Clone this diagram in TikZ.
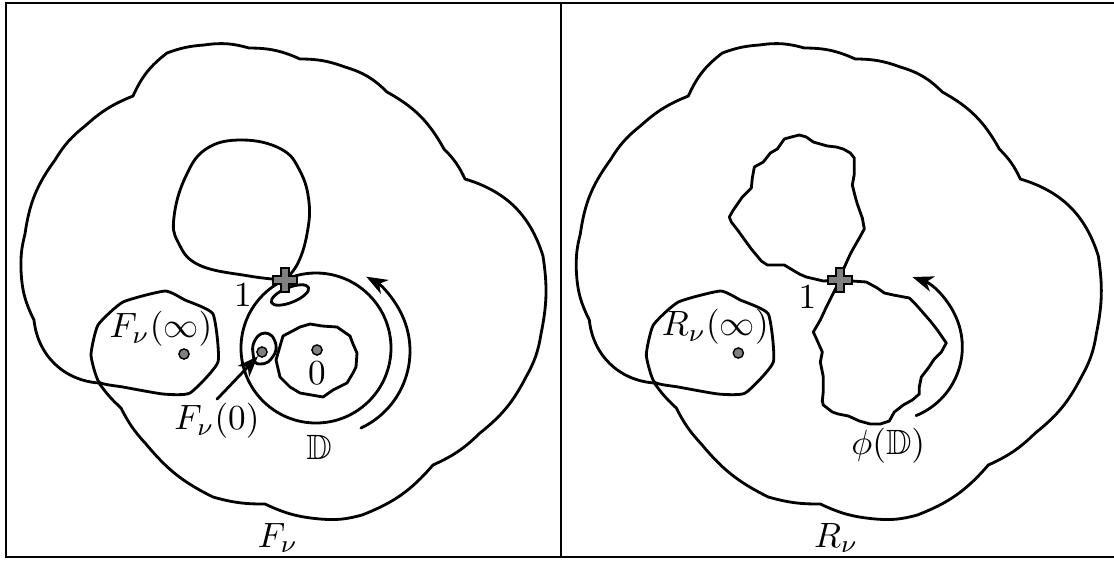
\documentclass[tikz,border=0pt]{standalone}
\usetikzlibrary{arrows.meta}
\usepackage{amsmath, amssymb}

% scalloped outer region, shared by both panels
\newcommand{\cloudoutline}{(204,45) to[bend left=12] (249,48) to[bend left=12] (300,59)
  to[bend left=10] (345,67) to[bend left=14] (387,92) to[bend left=16] (444,149)
  to[bend left=10] (465,179) to[bend left=28] (543,256) to[bend left=10] (541,334)
  to[bend left=10] (526,377) to[bend left=12] (480,433) to[bend left=10] (433,465)
  to[bend left=14] (362,515) to[bend left=10] (320,519) to[bend left=10] (265,504)
  to[bend left=8] (213,497) to[bend left=12] (146,444) to[bend left=8] (121,408)
  to[bend left=6] (99,383) to[bend left=40] (34,320) to[bend left=12] (21,270)
  to[bend left=8] (25,234) to[bend left=14] (55,160) to[bend left=10] (85,126)
  to[bend left=10] (133,96) to[bend left=14] (167,53) to[bend left=8] (204,45)}
% region around the point at infinity
\newcommand{\infoutline}{plot[smooth cycle, tension=0.3] coordinates {(165,291) (123,302)
  (98,325) (91,355) (99,382) (123,387) (163,394) (190,393) (218,362) (213,314) (185,300)}}

\begin{document}
\begin{tikzpicture}[
    x=0.01cm, y=-0.01cm,
    >={Stealth[length=6pt,width=4.5pt,inset=1.8pt]},
    curve/.style={line width=0.8pt, line join=round, line cap=round},
    frame/.style={line width=0.6pt},
    lbl/.style={inner sep=1pt},
    spot/.style={circle, draw=black, fill=gray, inner sep=0pt, minimum size=2.9pt, line width=0.4pt},
    plusmark/.pic={\draw[fill=gray, line width=0.5pt] (-4,-12) -- (4,-12) -- (4,-4) -- (12,-4)
      -- (12,4) -- (4,4) -- (4,12) -- (-4,12) -- (-4,4) -- (-12,4) -- (-12,-4) -- (-4,-4) -- cycle;}
]
  \useasboundingbox (0,0) rectangle (1114,560);

  % --- LEFT PANEL: F_nu ---
  \draw[frame] (6,3) rectangle (561,557);
  \draw[curve] \cloudoutline;
  \draw[curve] \infoutline;

  % loop through 1
  \draw[curve] plot[smooth, tension=0.7] coordinates {(285,280) (249,276) (199,265) (178,242)
    (174,217) (185,178) (206,149) (242,140) (281,149) (300,171) (309,202) (307,234) (298,263) (285,280)};
  % unit disc and the small loop at 1
  \draw[curve] (316,348) circle[radius=75];
  \draw[curve] (290,295) ellipse[x radius=20, y radius=7.5, rotate=22];

  % blob around 0 and the small loop around F_nu(0)
  \draw[curve] (283,336) -- (300,327) -- (310,324) -- (322,326) -- (337,327) -- (350,336)
    -- (353,344) -- (357,353) -- (356,367) -- (353,373) -- (347,383) -- (333,390)
    -- (323,397) -- (300,393) -- (290,387) -- (280,377) -- (276,360) -- cycle;
  \draw[curve] plot[smooth cycle, tension=0.6] coordinates {(253,345) (258,336) (265,333)
    (272,336) (276,345) (275,353) (268,362) (260,364) (255,362) (253,353)};

  \node[spot] (dotFinf) at (184,354) {};
  \node[spot] (dotzero) at (317,350) {};
  \node[spot] (dotFzero) at (262,352) {};

  \node[lbl] (lblFinf) at (161,329) {$F_\nu(\infty)$};
  \node[lbl] (lblone) at (243,295) {$1$};
  \node[lbl] (lblzero) at (317,373) {$0$};
  \node[lbl] (lblFzero) at (217,421) {$F_\nu(0)$};
  \node[lbl] (lblD) at (319,447) {$\mathbb{D}$};
  \node[lbl] (lblF) at (278,538) {$F_\nu$};

  \draw[curve, ->] (lblFzero.north) -- (dotFzero);
  \draw[curve, ->] (325,351) ++(65:85) arc[start angle=65, end angle=-61, radius=85];
  \pic at (285,280) {plusmark};

  % --- RIGHT PANEL: R_nu ---
  \begin{scope}[xshift=5.55cm]
    \draw[frame] (559,3) -- (6,3) -- (6,557) -- (559,557);
    \draw[curve] \cloudoutline;
    \draw[curve] \infoutline;

    % image of the disc, pinched at 1
    \draw[curve] (285,280) -- (268,281) -- (251,277) -- (244,274) -- (229,265) -- (212,265)
      -- (206,261) -- (196,249) -- (188,238) -- (183,231) -- (176,222) -- (174,217)
      -- (178,210) -- (187,197) -- (196,188) -- (197,178) -- (199,167) -- (208,162)
      -- (215,153) -- (222,149) -- (229,139) -- (236,137) -- (244,135) -- (251,137)
      -- (258,142) -- (272,146) -- (281,147) -- (288,149) -- (295,153) -- (299,158)
      -- (299,174) -- (297,185) -- (300,197) -- (302,204) -- (307,218) -- (309,229)
      -- (304,238) -- (300,245) -- (295,254) -- (290,265) -- (286,274) -- (285,280);
    \draw[curve] (285,280) -- (297,281) -- (311,282) -- (322,288) -- (329,293) -- (338,295)
      -- (354,298) -- (361,305) -- (368,313) -- (375,321) -- (382,330) -- (391,343)
      -- (386,352) -- (379,359) -- (373,368) -- (366,377) -- (364,387) -- (364,394)
      -- (357,400) -- (348,405) -- (339,412) -- (334,421) -- (325,424) -- (315,424)
      -- (304,421) -- (293,416) -- (283,414) -- (277,412) -- (268,405) -- (267,401)
      -- (268,391) -- (268,377) -- (265,362) -- (267,352) -- (263,343) -- (258,332)
      -- (265,320) -- (272,305) -- (279,291) -- (285,280);

    \node[spot] (dotRinf) at (183,353) {};

    \node[lbl] (lblRinf) at (160,327) {$R_\nu(\infty)$};
    \node[lbl] (lblonebis) at (252,297) {$1$};
    \node[lbl] (lblphiD) at (333,446) {$\phi(\mathbb{D})$};
    \node[lbl] (lblR) at (281,538) {$R_\nu$};

    \draw[curve, ->] (333,347) ++(68:74) arc[start angle=68, end angle=-71, radius=74];
    \pic at (285,280) {plusmark};
  \end{scope}

\end{tikzpicture}
\end{document}
